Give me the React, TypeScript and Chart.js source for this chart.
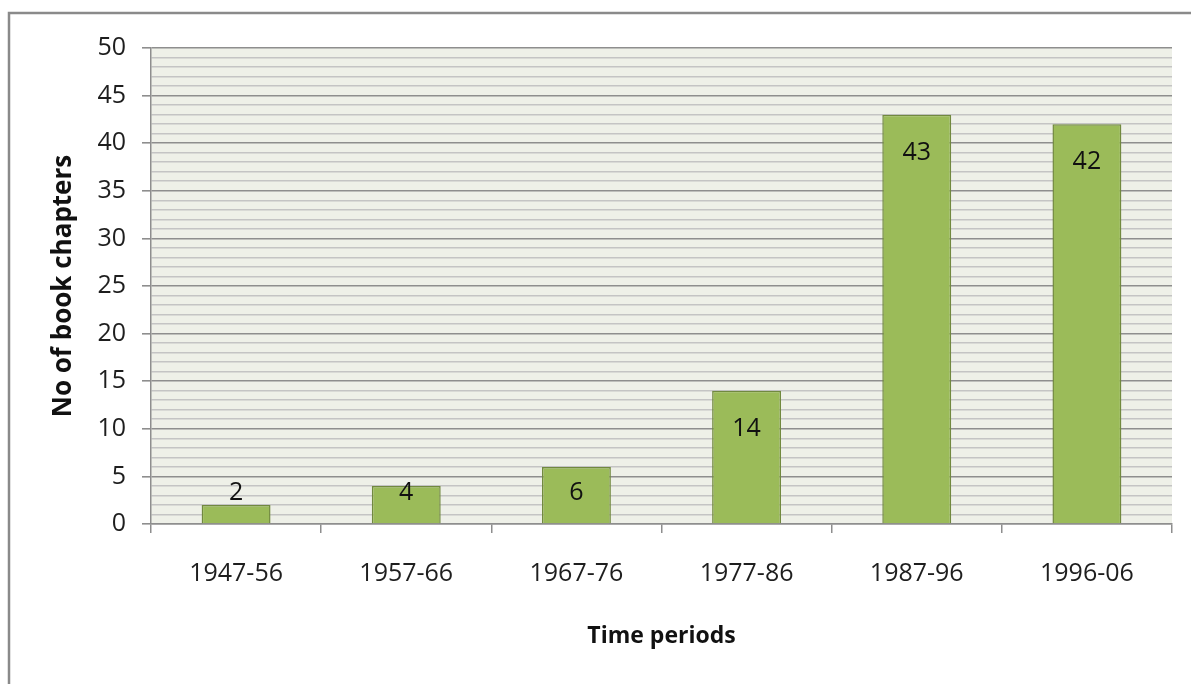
import React, { useEffect, useRef } from "react";
import { Chart, registerables } from "chart.js";

Chart.register(...registerables);

const categories = ["1947-56", "1957-66", "1967-76", "1977-86", "1987-96", "1996-06"];
const chapters = [2, 4, 6, 14, 43, 42];
const yTickLabels = [0, 5, 10, 15, 20, 25, 30, 35, 40, 45, 50];

const FONT = "'Open Sans', 'Noto Sans', sans-serif";
const MAJOR_GRID = "#8e8e8e";
const MINOR_GRID = "#c4c4c4";

// Outer frame, plot background, and value labels on the bars
const decorations = {
  id: "decorations",
  beforeDraw(chart: any) {
    const { ctx, chartArea } = chart;
    ctx.save();
    ctx.fillStyle = "#ffffff";
    ctx.fillRect(0, 0, chart.width, chart.height);
    ctx.strokeStyle = "#8a8a8a";
    ctx.lineWidth = 2.5;
    ctx.beginPath();
    ctx.moveTo(chart.width + 2, 13);
    ctx.lineTo(9, 13);
    ctx.lineTo(9, chart.height + 2);
    ctx.stroke();
    ctx.fillStyle = "#eef0e8";
    ctx.fillRect(chartArea.left, chartArea.top, chartArea.right - chartArea.left, chartArea.bottom - chartArea.top);
    ctx.restore();
  },
  afterDatasetsDraw(chart: any) {
    const { ctx } = chart;
    const meta = chart.getDatasetMeta(0);
    ctx.save();
    ctx.font = `25px ${FONT}`;
    ctx.fillStyle = "#111111";
    ctx.textAlign = "center";
    ctx.textBaseline = "middle";
    meta.data.forEach((bar: any, i: number) => {
      const y = Math.min(bar.y + 38, bar.base - 30);
      ctx.fillText(String(chapters[i]), bar.x, y);
    });
    ctx.restore();
  },
};

export default function App() {
  const canvasRef = useRef<HTMLCanvasElement | null>(null);

  useEffect(() => {
    const canvas = canvasRef.current;
    if (!canvas) return;
    const chart = new Chart(canvas, {
      type: "bar",
      data: {
        labels: categories,
        datasets: [
          {
            label: "No of book chapters",
            data: chapters,
            backgroundColor: "#9bbb59",
            borderColor: "#71893f",
            borderWidth: 1.5,
            barPercentage: 0.405,
            categoryPercentage: 1,
          },
        ],
      },
      options: {
        responsive: false,
        animation: false,
        layout: { padding: { top: 48, right: 19, left: 0, bottom: 0 } },
        plugins: {
          legend: { display: false },
          tooltip: { enabled: false },
        },
        scales: {
          x: {
            offset: true,
            grid: {
              offset: true,
              drawOnChartArea: false,
              color: "#8e8e8e",
              tickLength: 9,
              lineWidth: 1.5,
            },
            border: { color: "#8e8e8e", width: 1.5 },
            ticks: {
              padding: 26,
              color: "#1e1e1e",
              font: { family: FONT, size: 25 },
            },
            title: {
              display: true,
              text: "Time periods",
              color: "#111111",
              font: { family: FONT, size: 23, weight: "bold" },
              padding: { top: 0, bottom: 34 },
            },
            afterFit(scale: any) {
              scale.height = 160;
            },
          },
          y: {
            min: 0,
            max: 50,
            grid: {
              color: (c: any) => (c.tick && c.tick.value % 5 === 0 ? MAJOR_GRID : MINOR_GRID),
              tickColor: (c: any) => (c.tick && c.tick.value % 5 === 0 ? MAJOR_GRID : "rgba(0,0,0,0)"),
              lineWidth: 1.6,
              tickLength: 9,
            },
            border: { color: "#8e8e8e", width: 1.5 },
            ticks: {
              stepSize: 1,
              autoSkip: false,
              padding: 16,
              color: "#1e1e1e",
              font: { family: FONT, size: 25 },
              callback: (v: any) => (yTickLabels.includes(Number(v)) ? String(v) : ""),
            },
            title: {
              display: true,
              text: "No of book chapters",
              color: "#111111",
              font: { family: FONT, size: 26, weight: "bold" },
              padding: { top: 48, bottom: 0 },
            },
            afterFit(scale: any) {
              scale.width = 151;
            },
          },
        },
      },
      plugins: [decorations],
    });
    return () => chart.destroy();
  }, []);

  return (
    <div style={{ position: "fixed", left: 0, top: 0, width: 1191, height: 684 }}>
      <canvas ref={canvasRef} width={1191} height={684} style={{ display: "block" }} />
    </div>
  );
}
